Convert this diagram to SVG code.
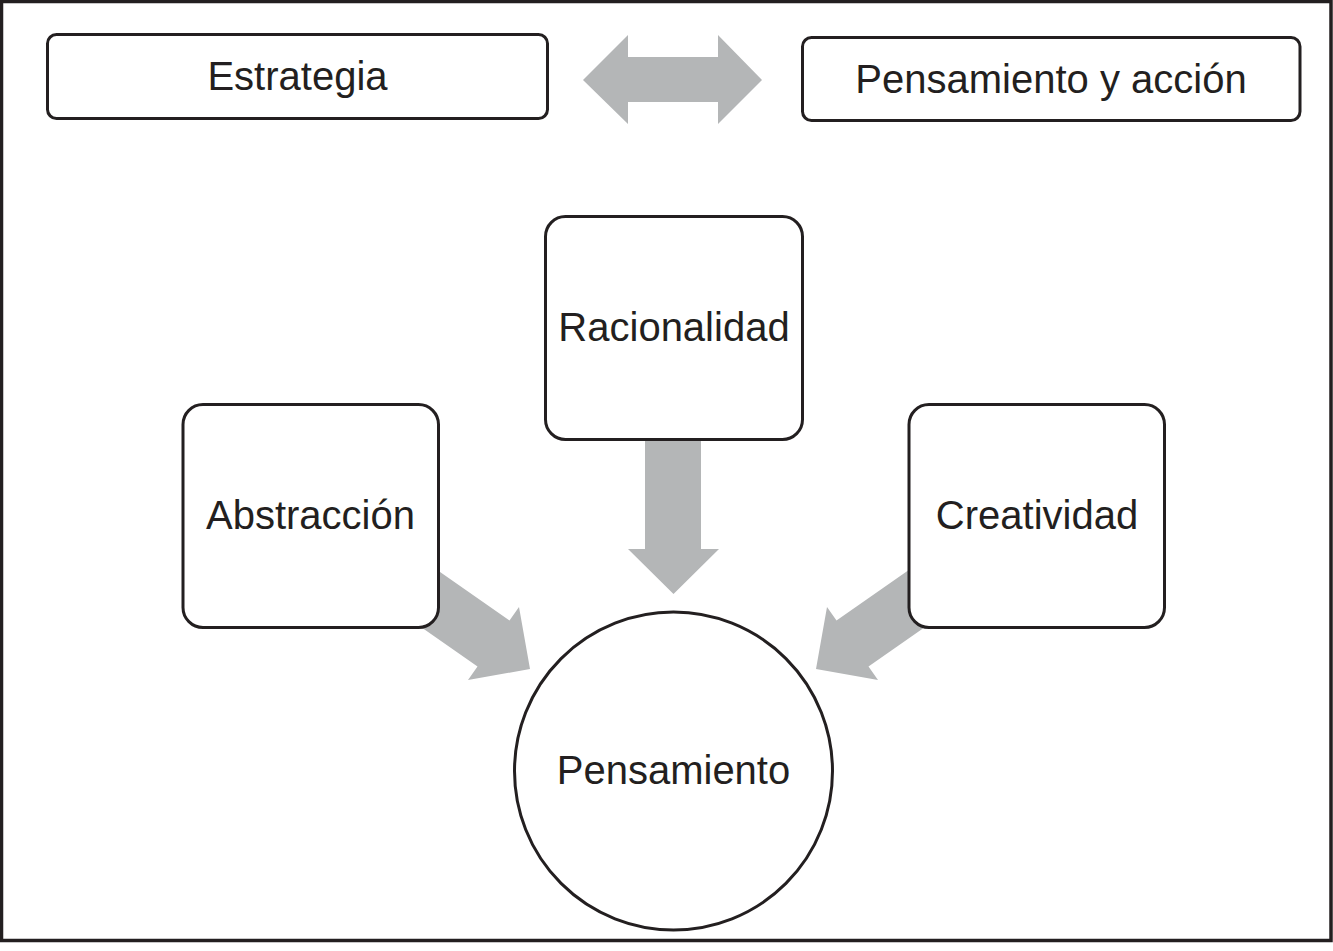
<svg xmlns="http://www.w3.org/2000/svg" width="1333" height="951" viewBox="0 0 1333 951">
<style>
.node{fill:#fff;stroke:#231f20;stroke-width:3}
.arrow{fill:#b4b6b7;stroke:none}
.label{font-family:"Liberation Sans",Arial,sans-serif;font-size:40px;fill:#231f20;text-anchor:middle}
</style>
<rect x="0" y="0" width="1333" height="951" fill="#fff"/>
<rect x="1.5" y="1.5" width="1329.5" height="939" fill="#fff" stroke="#231f20" stroke-width="3.5"/>
<g id="connectors">
<polygon class="arrow" points="583,80 628,35 628,57 718,57 718,35 762,80 718,124 718,102 628,102 628,124"/>
<polygon class="arrow" points="645,430 701,430 701,549 719,549 673.5,594 628,549 645,549"/>
<polygon class="arrow" points="419.3,557.5 509.5,620.5 519,607 530,669 468,680 477.5,666.5 387.3,603.5"/>
<polygon class="arrow" points="926.7,557.5 836.5,620.5 827,607 816,669 878,680 868.5,666.5 958.7,603.5"/>
</g>
<g id="estrategia">
<rect class="node" x="47.5" y="34.5" width="500" height="84" rx="9"/>
<text class="label" x="297.5" y="90">Estrategia</text>
</g>
<g id="pensamiento-accion">
<rect class="node" x="802.5" y="37.5" width="497.5" height="83" rx="9"/>
<text class="label" x="1051" y="93">Pensamiento y acción</text>
</g>
<g id="racionalidad">
<rect class="node" x="545.5" y="216.5" width="257" height="223" rx="20"/>
<text class="label" x="674" y="341">Racionalidad</text>
</g>
<g id="abstraccion">
<rect class="node" x="183" y="404.5" width="255.5" height="223" rx="20"/>
<text class="label" x="310.5" y="529">Abstracción</text>
</g>
<g id="creatividad">
<rect class="node" x="909" y="404.5" width="255.5" height="223" rx="20"/>
<text class="label" x="1037" y="529">Creatividad</text>
</g>
<g id="pensamiento">
<circle class="node" cx="673.5" cy="771" r="159"/>
<text class="label" x="673.5" y="784">Pensamiento</text>
</g>
</svg>
